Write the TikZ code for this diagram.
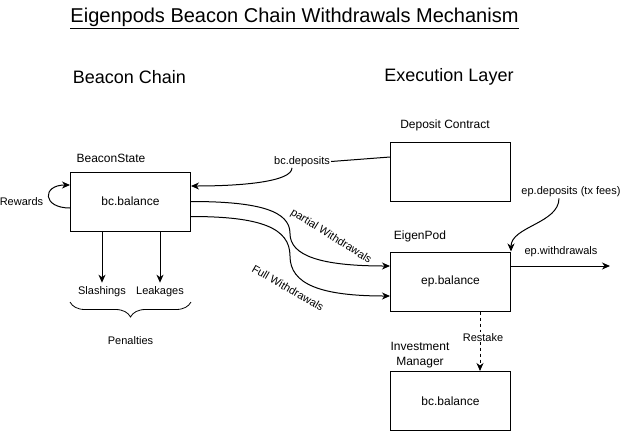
\documentclass[tikz,border=0pt]{standalone}
\usepackage{fontspec}
\setmainfont{Liberation Sans}
\usetikzlibrary{arrows.meta, calc, positioning, decorations.pathreplacing}
\tikzset {
    block/.style = {
        draw,
        shape = rectangle,
        line width=1pt,
        minimum width=120pt,
        minimum height=59pt,
        inner sep=0pt,
        font = {\fontsize{12}{14}\selectfont}
    },
    boxtitle/.style = {
        inner sep=1pt,
        align=center,
        font = {\fontsize{12}{15}\selectfont}
    },
    edgelabel/.style = {
        inner sep=1pt,
        fill=white,
        font = {\fontsize{11}{13}\selectfont}
    },
    heading/.style = {
        inner sep=0pt,
        font = {\fontsize{18}{22}\selectfont}
    },
    flow/.style = {
        -{Stealth[length=8pt, width=7pt, inset=2.5pt]},
        line width=1pt
    }
}

\begin{document}
\begin{tikzpicture}[x=1pt, y=-1pt]
        \useasboundingbox (0,0) rectangle (621,432);

        % Headings
        \node [heading, font={\fontsize{20}{24}\selectfont}] at (294.5,18) (title) {\underline{Eigenpods Beacon Chain Withdrawals Mechanism}};
        \node [heading] at (129.5,77)                   (bchead)    {Beacon Chain};
        \node [heading] at (449,77)                     (elhead)    {Execution Layer};

        % Beacon chain side : state box, rewards, penalties
        \node [block] at (130.5,201.5)                  (bs)        {bc.balance};
        \node [boxtitle] at (111,158)                   (bstitle)   {BeaconState};
        \node [edgelabel] at (21.5,202)                 (rew)       {Rewards};
        \node [edgelabel] at (102,292)                  (slash)     {Slashings};
        \node [edgelabel] at (160,292)                  (leak)      {Leakages};
        \node [edgelabel] at (130.5,341)                (pen)       {Penalties};

        % Execution layer side : deposit contract, eigenpod, investment manager
        \node [block] at (450.5,171.5)                  (dep)       {};
        \node [boxtitle, above=9pt of dep, xshift=-5.5pt] (deptitle) {Deposit Contract};
        \node [block] at (450.5,281.5)                  (ep)        {ep.balance};
        \node [boxtitle] at (420,236)                   (eptitle)   {EigenPod};
        \node [block] at (450.5,401)                    (im)        {bc.balance};
        \node [boxtitle] at (420,355.5)                 (imtitle)   {Investment\\Manager};

        % Edge labels
        \node [edgelabel] at (302,161.5)                (bcdep)     {bc.deposits};
        \node [edgelabel, fill=none, rotate=-32] at (331,236.5) (lblpart) {partial Withdrawals};
        \node [edgelabel, fill=none, rotate=-30] at (288,288) (lblfull) {Full Withdrawals};
        \node [edgelabel] at (561,252)                  (epw)       {ep.withdrawals};
        \node [edgelabel] at (571,192)                  (epdep)     {ep.deposits (tx fees)};

        % Bends of the withdrawal curves, free end of ep.withdrawals
        \coordinate (pmid)  at (290,233.5);
        \coordinate (fmid)  at (290,256);
        \coordinate (epout) at (610,266);

        \draw [flow]    ([yshift=-6.5pt]bs.west) .. controls +(-28,0) and +(-28,0) .. ([yshift=16.5pt]bs.west);
        \draw [flow, shorten >=3pt]   (bs.south -| slash)  --  (slash.north);
        \draw [flow, shorten >=3pt]   (bs.south -| leak)   --  (leak.north);
        \draw [decorate, decoration={brace, amplitude=15pt}, line width=0.8pt] (191,302) -- (70,302);

        \draw [line width=1pt]  ([yshift=14.5pt]dep.west)  --  (bcdep.east);
        \draw [flow]    ([xshift=-10pt]bcdep.south) .. controls +(0,14) and +(50,0) .. ([yshift=15.5pt]bs.east);

        \draw [flow]    (bs.east) .. controls +(70,0) and +(0,-22) .. (pmid)
                                  .. controls +(0,22) and +(-70,0) .. ([yshift=15.5pt]ep.west);
        \draw [flow]    ([yshift=-15pt]bs.east) .. controls +(70,0) and +(0,-28) .. (fmid)
                                  .. controls +(0,28) and +(-70,0) .. ([yshift=-14.5pt]ep.west);

        \draw [flow]    ([yshift=15.5pt]ep.east)  --  (epout);
        \draw [flow]    ([xshift=-12pt]epdep.south) .. controls +(0,25) and +(0,-25) .. (ep.north east);
        \draw [flow, dash pattern=on 3pt off 3pt] ([xshift=29.5pt]ep.south) -- ([xshift=29.5pt]im.north)
            node [edgelabel, pos=0.43, xshift=3pt] (restake) {Restake};
    \end{tikzpicture}
\end{document}
